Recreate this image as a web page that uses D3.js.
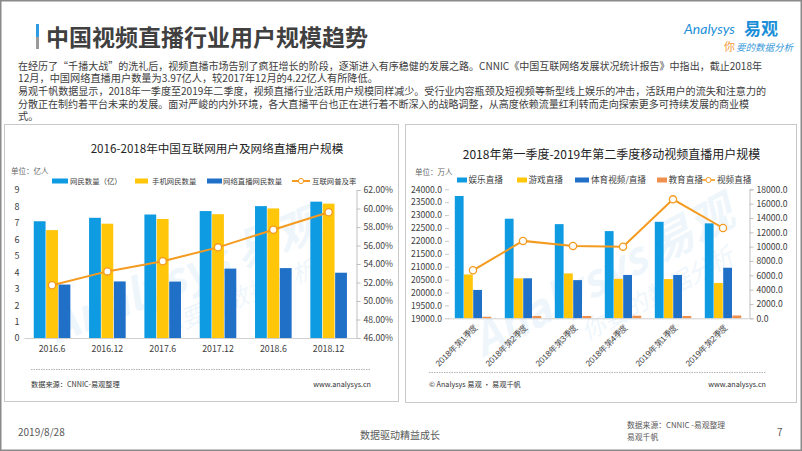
<!DOCTYPE html>
<html><head><meta charset="utf-8">
<script src="https://cdn.jsdelivr.net/npm/d3@7"></script>
<style>body{margin:0;background:#fff}svg{display:block;font-family:"Noto Sans CJK SC","Noto Sans",sans-serif}</style>
</head><body><svg id="c" width="802" height="451"></svg>
<script>
// ---------- data ----------
const leftCategories = ["2016.6","2016.12","2017.6","2017.12","2018.6","2018.12"];
const netizens = [7.10,7.31,7.51,7.72,8.02,8.29];
const mobileNetizens = [6.56,6.95,7.24,7.53,7.88,8.17];
const liveNetizens = [3.25,3.44,3.43,4.22,4.25,3.97];
const penetration = [0.517,0.532,0.543,0.558,0.577,0.596];
const leftTicks = [0,1,2,3,4,5,6,7,8,9];
const pctTicks = [0.46,0.48,0.50,0.52,0.54,0.56,0.58,0.60,0.62];
const leftLegend = ["网民数量（亿）","手机网民数量","网络直播网民数量","互联网普及率"];

const quarters = ["2018年第1季度","2018年第2季度","2018年第3季度","2018年第4季度","2019年第1季度","2019年第2季度"];
const entertainment = [23740,22860,22650,22380,22740,22680];
const gaming = [20700,20550,20740,20530,20520,20370];
const sports = [20100,20550,20480,20680,20680,20960];
const education = [19060,19090,19090,19100,19090,19110];
const videoLive = [6700,10800,10100,10000,16600,12600];
const rLeftTicks = [19000,19500,20000,20500,21000,21500,22000,22500,23000,23500,24000];
const rRightTicks = [0,2000,4000,6000,8000,10000,12000,14000,16000,18000];
const rightLegend = ["娱乐直播","游戏直播","体育视频/直播","教育直播","视频直播"];

const paragraph = [
 "在经历了“千播大战”的洗礼后，视频直播市场告别了疯狂增长的阶段，逐渐进入有序稳健的发展之路。CNNIC《中国互联网络发展状况统计报告》中指出，截止2018年",
 "12月，中国网络直播用户数量为3.97亿人，较2017年12月的4.22亿人有所降低。",
 "易观千帆数据显示，2018年一季度至2019年二季度，视频直播行业活跃用户规模同样减少。受行业内容瓶颈及短视频等新型线上娱乐的冲击，活跃用户的流失和注意力的",
 "分散正在制约着平台未来的发展。面对严峻的内外环境，各大直播平台也正在进行着不断深入的战略调整，从高度依赖流量红利转而走向探索更多可持续发展的商业模",
 "式。"
];

const C_BLUE = "#0f9be2", C_YEL = "#ffc60a", C_DBLUE = "#2070c8", C_EDU = "#ef8f4e", C_LINE = "#f49a1f";

const svg = d3.select("#c");
svg.append("rect").attr("width",802).attr("height",451).attr("fill","#fff");
svg.append("rect").attr("x",0.75).attr("y",0.75).attr("width",800.5).attr("height",449.5)
  .attr("fill","none").attr("stroke","#8a8a8a").attr("stroke-width",1.5);

// header
svg.append("rect").attr("x",36).attr("y",24).attr("width",3).attr("height",13).attr("fill","#2f9be3");
svg.append("rect").attr("x",36).attr("y",37).attr("width",3).attr("height",12).attr("fill","#9a9a9a");
svg.append("text").attr("x",46).attr("y",46).attr("font-size",23).attr("font-weight","bold")
  .attr("fill","#404040").text("中国视频直播行业用户规模趋势");
// logo
const logo = svg.append("g");
logo.append("text").attr("x",684).attr("y",34).attr("font-size",14).attr("font-style","italic")
  .attr("fill","#1a8fd8").attr("font-family","Lato, sans-serif").text("Analysys");
logo.append("text").attr("x",744).attr("y",35).attr("font-size",17).attr("font-weight","bold")
  .attr("fill","#1a8fd8").text("易观");
logo.append("text").attr("x",724).attr("y",51).attr("font-size",11).attr("fill","#f29a38").text("你");
logo.append("text").attr("x",736).attr("y",51).attr("font-size",9.5).attr("font-style","italic")
  .attr("fill","#3a9ad9").text("要的数据分析");

// paragraph
const pY = [69.8,82.4,95.4,108,120.4];
const pLen = [744,null,748,731,null];
paragraph.forEach((t,i)=>{
  const tx = svg.append("text").attr("x",18).attr("y",pY[i]).attr("font-size",10.2)
    .attr("fill","#404040").text(t);
  if(pLen[i]) tx.attr("textLength",pLen[i]).attr("lengthAdjust","spacingAndGlyphs");
});

// panels
svg.append("rect").attr("x",4.5).attr("y",124.5).attr("width",394).attr("height",277)
  .attr("fill","#fff").attr("stroke","#c9c9c9");
svg.append("rect").attr("x",405.5).attr("y",124.5).attr("width",391).attr("height",278)
  .attr("fill","#fff").attr("stroke","#c9c9c9");

// watermark
function watermark(x,y,rot){
  const g = svg.append("g").attr("transform",`translate(${x},${y}) rotate(${rot})`).attr("opacity",0.07);
  g.append("text").attr("font-size",44).attr("font-weight","bold").attr("font-style","italic")
    .attr("fill","#1a8fd8").attr("text-anchor","middle").text("Analysys 易观");
  g.append("text").attr("y",34).attr("x",40).attr("font-size",24).attr("font-style","italic")
    .attr("fill","#1a8fd8").attr("text-anchor","middle").text("你要的数据分析");
}
watermark(190,290,-22);
watermark(610,290,-28);

// ---------- left chart ----------
const L = svg.append("g");
L.append("text").attr("x",217).attr("y",153).attr("text-anchor","middle").attr("font-size",11.6)
  .attr("fill","#222").text("2016-2018年中国互联网用户及网络直播用户规模");
L.append("text").attr("x",11).attr("y",174).attr("font-size",7.5).attr("fill","#666").text("单位：亿人");

const lx = d3.scaleBand().domain(leftCategories).range([24.4,356.3]);
const ly = d3.scaleLinear().domain([0,9]).range([338,190]);
const lyr = d3.scaleLinear().domain([0.46,0.62]).range([338,190]);
const lSeries = [netizens, mobileNetizens, liveNetizens];
const lColors = [C_BLUE, C_YEL, C_DBLUE];
const bw = 11.8, bs = 12.4;
lSeries.forEach((s,si)=>{
  L.append("g").selectAll("rect").data(s).join("rect")
    .attr("x",(d,i)=>lx(leftCategories[i]) + lx.bandwidth()/2 - 1.5*bs + si*bs + (bs-bw)/2)
    .attr("width",bw)
    .attr("y",d=>ly(d)).attr("height",d=>ly(0)-ly(d)).attr("fill",lColors[si]);
});
// baseline
L.append("line").attr("x1",24.4).attr("x2",356.3).attr("y1",338.5).attr("y2",338.5).attr("stroke","#d0d0d0");
// left axis labels
const la = L.append("g").attr("transform","translate(17,0)")
  .call(d3.axisLeft(ly).tickValues(leftTicks).tickSize(0).tickPadding(0).tickFormat(d3.format("d")));
la.select(".domain").remove();
la.selectAll("text").attr("x",0).attr("text-anchor","middle").attr("font-size",9).attr("fill","#404040")
  .attr("font-family","'Noto Sans CJK SC', sans-serif");
// right axis
const ra = L.append("g").attr("transform","translate(356.5,0)")
  .call(d3.axisRight(lyr).tickValues(pctTicks).tickSize(4).tickPadding(3).tickFormat(d3.format(".2%")));
ra.select(".domain").attr("stroke","#c0c0c0");
ra.selectAll(".tick line").attr("stroke","#c0c0c0");
ra.selectAll("text").attr("font-size",8.6).attr("fill","#404040").attr("font-family","'Noto Sans CJK SC', sans-serif");
// x labels
const xa = L.append("g").attr("transform","translate(0,338)")
  .call(d3.axisBottom(lx).tickSize(0).tickPadding(8));
xa.select(".domain").remove();
xa.selectAll("text").attr("font-size",8.8).attr("fill","#404040").attr("font-family","'Noto Sans CJK SC', sans-serif");
// line
const lLine = d3.line().x((d,i)=>lx(leftCategories[i])+lx.bandwidth()/2).y(d=>lyr(d));
L.append("path").datum(penetration).attr("d",lLine).attr("fill","none").attr("stroke",C_LINE).attr("stroke-width",2);
L.append("g").selectAll("circle").data(penetration).join("circle")
  .attr("cx",(d,i)=>lx(leftCategories[i])+lx.bandwidth()/2).attr("cy",d=>lyr(d)).attr("r",3.6)
  .attr("fill","#fff").attr("stroke",C_LINE).attr("stroke-width",1.3);
// legend
const lLegX = [52,135,207,292];
leftLegend.forEach((t,i)=>{
  const g = L.append("g").attr("transform",`translate(${lLegX[i]},181)`);
  if(i<3){
    g.append("rect").attr("x",0).attr("y",-2.5).attr("width",i===0?16:(i===1?13:15)).attr("height",5).attr("fill",lColors[i]);
    g.append("text").attr("x",i===0?18:(i===1?17:16)).attr("y",3).attr("font-size",7.4).attr("fill","#404040").text(t);
  } else {
    g.append("line").attr("x1",0).attr("x2",18).attr("y1",0).attr("y2",0).attr("stroke",C_LINE).attr("stroke-width",2);
    g.append("circle").attr("cx",9).attr("cy",0).attr("r",2.6).attr("fill","#fff").attr("stroke",C_LINE);
    g.append("text").attr("x",20).attr("y",3).attr("font-size",7.4).attr("fill","#404040").text(t);
  }
});
// footer of left panel
L.append("line").attr("x1",31).attr("x2",371).attr("y1",369.5).attr("y2",369.5)
  .attr("stroke","#b5b5b5").attr("stroke-dasharray","1.5,1");
L.append("text").attr("x",31).attr("y",387).attr("font-size",7.2).attr("fill","#333").text("数据来源：CNNIC-易观整理");
L.append("text").attr("x",371).attr("y",387).attr("text-anchor","end").attr("font-size",7.2).attr("fill","#333").text("www.analysys.cn");

// ---------- right chart ----------
const R = svg.append("g");
R.append("text").attr("x",611.5).attr("y",159).attr("text-anchor","middle").attr("font-size",12)
  .attr("fill","#222").text("2018年第一季度-2019年第二季度移动视频直播用户规模");
R.append("text").attr("x",415).attr("y",175).attr("font-size",7.5).attr("fill","#666").text("单位：万人");

const rx = d3.scaleBand().domain(quarters).range([448,748]);
const ry = d3.scaleLinear().domain([19000,24000]).range([318.3,189.3]);
const ryr = d3.scaleLinear().domain([0,18000]).range([318.3,189.3]);
const rSeries = [entertainment, gaming, sports, education];
const rColors = [C_BLUE, C_YEL, C_DBLUE, C_EDU];
const rbw = 8.8, rbs = 9.2;
rSeries.forEach((s,si)=>{
  R.append("g").selectAll("rect").data(s).join("rect")
    .attr("x",(d,i)=>rx(quarters[i]) + rx.bandwidth()/2 - 2*rbs + si*rbs + (rbs-rbw)/2)
    .attr("width",rbw)
    .attr("y",d=>ry(d)).attr("height",d=>ry(19000)-ry(d)).attr("fill",rColors[si]);
});
R.append("line").attr("x1",448).attr("x2",749).attr("y1",318.8).attr("y2",318.8).attr("stroke","#d0d0d0");
const rla = R.append("g").attr("transform","translate(449,0)")
  .call(d3.axisLeft(ry).tickValues(rLeftTicks).tickSize(4).tickPadding(3).tickFormat(d3.format(".1f")));
rla.select(".domain").remove();
rla.selectAll(".tick line").attr("stroke","#c8c8c8");
rla.selectAll("text").attr("font-size",8.6).attr("fill","#404040").attr("font-family","'Noto Sans CJK SC', sans-serif");
const rra = R.append("g").attr("transform","translate(749.5,0)")
  .call(d3.axisRight(ryr).tickValues(rRightTicks).tickSize(4).tickPadding(3).tickFormat(d3.format(".1f")));
rra.select(".domain").attr("stroke","#c0c0c0");
rra.selectAll(".tick line").attr("stroke","#c0c0c0");
rra.selectAll("text").attr("font-size",8.6).attr("fill","#404040").attr("font-family","'Noto Sans CJK SC', sans-serif");
const rxa = R.append("g").attr("transform","translate(0,318)")
  .call(d3.axisBottom(rx).tickSize(0).tickPadding(0));
rxa.select(".domain").remove();
rxa.selectAll("text").attr("font-size",8.4).attr("fill","#404040")
  .attr("text-anchor","end").attr("dy",0).attr("y",0)
  .attr("transform","translate(5,10) rotate(-45)");
const rLine = d3.line().x((d,i)=>rx(quarters[i])+rx.bandwidth()/2).y(d=>ryr(d));
R.append("path").datum(videoLive).attr("d",rLine).attr("fill","none").attr("stroke",C_LINE).attr("stroke-width",2);
R.append("g").selectAll("circle").data(videoLive).join("circle")
  .attr("cx",(d,i)=>rx(quarters[i])+rx.bandwidth()/2).attr("cy",d=>ryr(d)).attr("r",3.6)
  .attr("fill","#fff").attr("stroke",C_LINE).attr("stroke-width",1.3);
const rLegX = [457,517,575,657,702];
rightLegend.forEach((t,i)=>{
  const g = R.append("g").attr("transform",`translate(${rLegX[i]},180)`);
  if(i<4){
    g.append("rect").attr("x",0).attr("y",-2.5).attr("width",i===2?14:10).attr("height",5).attr("fill",rColors[i]);
    g.append("text").attr("x",i===2?16:11.5).attr("y",3).attr("font-size",8.6).attr("fill","#404040").text(t);
  } else {
    g.append("line").attr("x1",0).attr("x2",13).attr("y1",0).attr("y2",0).attr("stroke",C_LINE).attr("stroke-width",1.6);
    g.append("circle").attr("cx",6.5).attr("cy",0).attr("r",2.6).attr("fill","#fff").attr("stroke",C_LINE);
    g.append("text").attr("x",15).attr("y",3).attr("font-size",8.6).attr("fill","#404040").text(t);
  }
});
R.append("line").attr("x1",429).attr("x2",766).attr("y1",372.5).attr("y2",372.5)
  .attr("stroke","#b5b5b5").attr("stroke-dasharray","1.5,1");
R.append("text").attr("x",429).attr("y",387).attr("font-size",7.2).attr("fill","#333").text("© Analysys 易观 · 易观千帆");
R.append("text").attr("x",766).attr("y",387).attr("text-anchor","end").attr("font-size",7.2).attr("fill","#333").text("www.analysys.cn");

// ---------- slide footer ----------
svg.append("text").attr("x",18).attr("y",436).attr("font-size",10).attr("fill","#595959").text("2019/8/28");
svg.append("text").attr("x",400).attr("y",439).attr("text-anchor","middle").attr("font-size",10).attr("fill","#595959").text("数据驱动精益成长");
svg.append("text").attr("x",627).attr("y",428).attr("font-size",7.8).attr("fill","#595959").text("数据来源：CNNIC -易观整理");
svg.append("text").attr("x",627).attr("y",440).attr("font-size",7.8).attr("fill","#595959").text("易观千帆");
svg.append("text").attr("x",777).attr("y",436).attr("font-size",10).attr("fill","#595959").text("7");
</script></body></html>
